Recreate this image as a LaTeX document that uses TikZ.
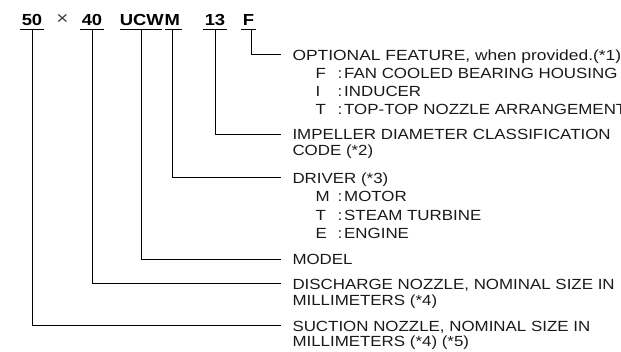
\documentclass[tikz,border=0pt]{standalone}
\usepackage{fontspec}
\usepackage{graphicx}
\setmainfont{Liberation Sans}[FakeStretch=1.15]
\usetikzlibrary{positioning}

\begin{document}
\begin{tikzpicture}[x=1pt,y=-1pt,line width=1pt,
  code/.style={font=\fontsize{16}{16}\selectfont\bfseries,inner sep=0pt,anchor=base,text height=11.5pt,text depth=3.3pt},
  desc/.style={font=\fontsize{14.7}{15}\selectfont,inner sep=0pt,anchor=west,text height=10.5pt,text depth=0pt,text=black!90},
  uline/.style={line width=0.8pt},
  lead/.style={shorten >=11pt}]
\useasboundingbox (0,0) rectangle (621,352);
\node[code] (s50) at (32,26) {50};
\node[code,font=\fontsize{18}{18}\selectfont,text=black!75] (times) at (62.5,25) {×};
\node[code] (s40) at (92,26) {40};
\node[code,anchor=base west] (ucw) at (119.3,26) {UCW};
\node[code,anchor=base west] (drv) at (ucw.base east) {M};
\node[code] (s13) at (215,26) {13};
\node[code] (opt) at (248.5,26) {F};
\foreach \n in {s50,s40,s13,opt}
  \draw[uline] ([xshift=-1.5pt]\n.south west) -- ([xshift=1.5pt]\n.south east);
\draw[uline] ([xshift=1pt]ucw.south west) -- ([xshift=-2pt]ucw.south east);
\draw[uline] ([xshift=1pt]drv.south west) -- ([xshift=1pt]drv.south east);

\node[desc] (dopt) at (292,55) {\scalebox{1.03}[1]{OPTIONAL FEATURE, when provided.(*1)}};
\foreach \y/\k/\t [count=\i] in {73/F/FAN COOLED BEARING HOUSING,91/I/INDUCER,109/T/TOP-TOP NOZZLE ARRANGEMENT}{
  \node[desc] (optk\i) at (315,\y) {\k};
  \node[desc] (optt\i) at (337,\y) {:\hspace{2pt}\t};
}
\node[desc] (dimp) at (292,134.5) {IMPELLER DIAMETER CLASSIFICATION};
\node[desc] (dimp2) at (292,150) {CODE (*2)};
\node[desc] (ddrv) at (292,178) {DRIVER (*3)};
\foreach \y/\k/\t [count=\i] in {196.5/M/MOTOR,215/T/STEAM TURBINE,233.5/E/ENGINE}{
  \node[desc] (drvk\i) at (315,\y) {\k};
  \node[desc] (drvt\i) at (337,\y) {:\hspace{2pt}\t};
}
\node[desc] (dmod) at (292,259.5) {MODEL};
\node[desc] (ddis) at (292,284) {DISCHARGE NOZZLE, NOMINAL SIZE IN};
\node[desc] (ddis2) at (292,300) {MILLIMETERS (*4)};
\node[desc] (dsuc) at (292,326) {SUCTION NOZZLE, NOMINAL SIZE IN};
\node[desc] (dsuc2) at (292,341.5) {MILLIMETERS (*4) (*5)};

\draw[lead] ([xshift=3pt]opt.south) |- (dopt.west);
\draw[lead] (s13.south) |- (dimp.west);
\draw[lead] (drv.south) |- (ddrv.west);
\draw[lead] (ucw.south) |- (dmod.west);
\draw[lead] (s40.south) |- (ddis.west);
\draw[lead] (s50.south) |- (dsuc.west);
\end{tikzpicture}
\end{document}
